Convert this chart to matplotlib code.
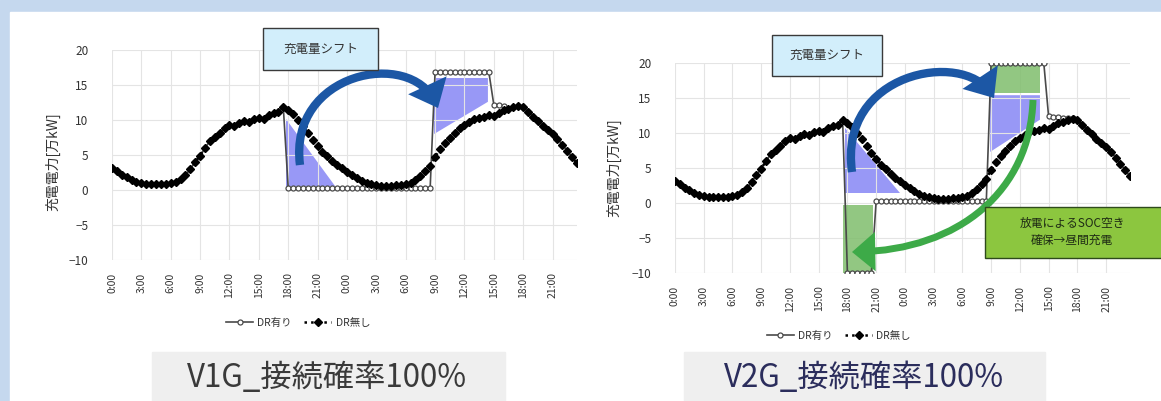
"""
V1G / V2G charging-shift comparison (two panels on a slide background).
"""
import matplotlib
matplotlib.use('Agg')
import matplotlib.pyplot as plt
from matplotlib.patches import Rectangle, Polygon, FancyArrowPatch
from matplotlib.path import Path
import numpy as np

plt.rcParams['font.family'] = ['Noto Sans CJK JP', 'DejaVu Sans']

W, H = 1161, 401

# ── Data (30-min steps over two days, 万kW) ────────────────────────────────────
tick_labels = ['0:00', '3:00', '6:00', '9:00', '12:00', '15:00', '18:00', '21:00'] * 2

no_dr = [3.2, 2.7, 2.2, 1.8, 1.5, 1.2, 1.0, 0.9, 0.8, 0.9, 0.8, 0.9,
         1.0, 1.2, 1.6, 2.1, 3.0, 4.0, 4.9, 6.0, 7.0, 7.6, 8.2, 8.8,
         9.3, 9.1, 9.6, 9.8, 9.7, 10.1, 10.3, 10.2, 10.7, 11.0, 11.2, 11.8,
         11.5, 10.9, 10.0, 9.2, 8.1, 7.2, 6.3, 5.5, 4.8, 4.2, 3.6, 3.1,
         2.6, 2.1, 1.7, 1.3, 1.0, 0.8, 0.7, 0.6, 0.6, 0.6, 0.7, 0.7,
         0.8, 1.0, 1.4, 2.0, 2.7, 3.5, 4.7, 5.8, 6.7, 7.5, 8.2, 8.8,
         9.3, 9.7, 10.1, 10.3, 10.5, 10.7, 10.6, 11.0, 11.4, 11.6, 11.9, 12.0,
         11.8, 11.2, 10.5, 9.9, 9.2, 8.6, 8.0, 7.3, 6.5, 5.6, 4.7, 3.8]

# DR有り: same as DR無し outside the shifted hours
v1g_dr = no_dr[:36] + [0.3] * 30 + [16.8] * 12 + [12.2, 12.1, 12.0] + no_dr[81:]
v2g_dr = (no_dr[:36] + [-10.0] * 6 + [0.3] * 24 + [20.0] * 12
          + [12.4, 12.3, 12.3, 12.2, 12.2, 12.1] + no_dr[84:])

x = np.arange(len(no_dr))

# shaded areas (chart data coordinates)
v1g_cut = [(35.5, 10.2), (35.5, 0.6), (45.5, 0.6)]
v1g_add = [(65.8, 16.0), (76.8, 16.0), (76.8, 12.6), (65.8, 8.0)]
v2g_cut = [(35.5, 10.7), (35.5, 1.4), (47.0, 1.4)]
v2g_add = [(65.8, 15.4), (76.2, 15.4), (76.2, 11.9), (65.8, 7.3)]

PURPLE = '#9898f6'
GREEN = '#7fbe6c'


def px_rect(x0, y0, x1, y1):
    return [x0 / W, 1 - y1 / H, (x1 - x0) / W, (y1 - y0) / H]


fig = plt.figure(figsize=(W / 100, H / 100), dpi=100)

# ── Slide background ──────────────────────────────────────────────────────────
bg = fig.add_axes([0, 0, 1, 1], zorder=0)
bg.set_xlim(0, W)
bg.set_ylim(H, 0)
bg.axis('off')
bg.add_patch(Rectangle((0, 0), W, H, color='#c5d8ee'))
bg.add_patch(Rectangle((10, 12), W - 10, H - 12, color='white'))
bg.add_patch(Rectangle((152, 352), 353, 60, color='#efefef'))
bg.add_patch(Rectangle((684, 352), 361, 60, color='#efefef'))
bg.text(327, 378, 'V1G_接続確率100%', fontsize=22.5, color='#3a3a3a',
        ha='center', va='center')
bg.text(864, 378, 'V2G_接続確率100%', fontsize=22.5, color='#2b2d5c',
        ha='center', va='center')


def draw_chart(rect, dr, cut, add, legend_x):
    ax = fig.add_axes(rect, zorder=1)
    ax.set_facecolor('none')
    ax.add_patch(Polygon(cut, closed=True, fc=PURPLE, ec='none', zorder=1))
    ax.add_patch(Polygon(add, closed=True, fc=PURPLE, ec='none', zorder=1))
    ax.plot(x, dr, color='#4a4a4a', lw=1.2, marker='o', ms=3.6,
            mfc='white', mec='#4a4a4a', mew=0.9, label='DR有り', zorder=3)
    ax.plot(x, no_dr, color='black', lw=1.8, ls=':', marker='D', ms=4.0,
            mfc='black', mec='black', label='DR無し', zorder=4)
    ax.set_xlim(0, 95)
    ax.set_ylim(-10, 20)
    ax.set_yticks([-10, -5, 0, 5, 10, 15, 20])
    ax.set_xticks(x[::6])
    ax.set_xticklabels(tick_labels, rotation=90, fontsize=7.5, color='#333333')
    ax.tick_params(axis='y', length=0, pad=17, labelsize=8.5, labelcolor='#333333')
    ax.tick_params(axis='x', length=0, pad=9)
    ax.grid(color='#e4e4e4', lw=0.8, zorder=0)
    for s in ax.spines.values():
        s.set_visible(False)
    ax.set_ylabel('充電電力[万kW]', fontsize=10, color='#333333')
    ax.legend(loc='center', bbox_to_anchor=(legend_x, -0.30), ncol=2,
              frameon=False, fontsize=7.5, handlelength=2.6, columnspacing=1.2,
              handletextpad=0.4, labelcolor='#333333')
    return ax


ax1 = draw_chart(px_rect(112, 50, 577, 260), v1g_dr, v1g_cut, v1g_add, 0.40)
ax1.yaxis.set_label_coords(-0.11, 0.47)
ax2 = draw_chart(px_rect(675, 63, 1130, 273), v2g_dr, v2g_cut, v2g_add, 0.36)
ax2.yaxis.set_label_coords(-0.118, 0.50)
ax2.add_patch(Rectangle((35.1, -10), 6.2, 9.7, fc=GREEN, ec='none', alpha=0.85, zorder=2))
ax2.add_patch(Rectangle((65.8, 15.7), 10.4, 4.0, fc=GREEN, ec='none', alpha=0.85, zorder=2))

# ── Overlay: callouts and arrows (pixel coordinates) ──────────────────────────
ov = fig.add_axes([0, 0, 1, 1], zorder=3)
ov.set_xlim(0, W)
ov.set_ylim(H, 0)
ov.axis('off')
ov.set_facecolor('none')

codes = [Path.MOVETO, Path.CURVE4, Path.CURVE4, Path.CURVE4]


def curved_arrow(pts, color, lw):
    arr = FancyArrowPatch(path=Path(pts, codes), arrowstyle='-|>,head_length=2.6,head_width=2.2',
                          mutation_scale=4, lw=lw, color=color, shrinkA=0, shrinkB=0,
                          joinstyle='miter', capstyle='butt')
    ov.add_patch(arr)


curved_arrow([(300, 165), (288, 72), (410, 48), (438, 108)], '#1c57a5', 6)
curved_arrow([(852, 172), (838, 72), (962, 50), (994, 98)], '#1c57a5', 6)
curved_arrow([(1033, 100), (1030, 190), (960, 250), (852, 252)], '#3daa48', 5)

# callout boxes
ov.add_patch(Rectangle((263, 28), 115, 42, fc='#d2eefb', ec='#3a3a3a', lw=1))
ov.text(320.5, 49, '充電量シフト', fontsize=9, color='#333333', ha='center', va='center')
ov.add_patch(Rectangle((772, 35), 110, 41, fc='#d2eefb', ec='#3a3a3a', lw=1))
ov.text(827, 55.5, '充電量シフト', fontsize=9, color='#333333', ha='center', va='center')
ov.add_patch(Rectangle((985, 207), 185, 51, fc='#8cc63f', ec='#2e4a1c', lw=1))
ov.text(1072, 232, '放電によるSOC空き\n確保→昼間充電', fontsize=8.5, color='#1e2a14',
        ha='center', va='center', linespacing=1.4)

fig.savefig('out.png', dpi=100)
